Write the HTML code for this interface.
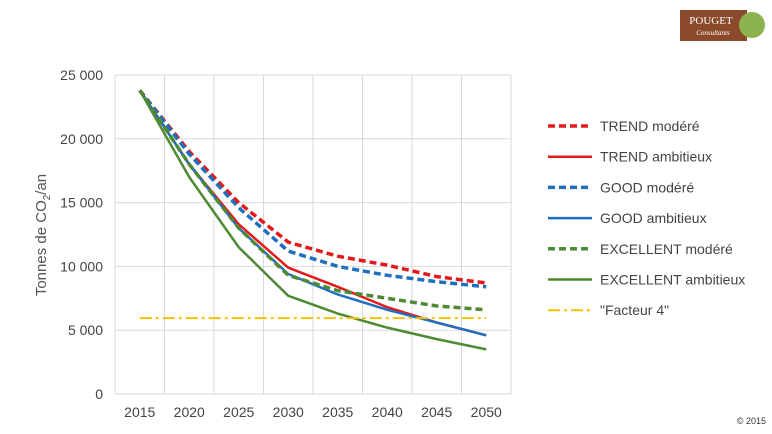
<!DOCTYPE html>
<html><head><meta charset="utf-8"><style>
body{margin:0;background:#fff;width:772px;height:429px;overflow:hidden;font-family:"Liberation Sans",sans-serif}
</style></head><body>
<svg id="c" width="772" height="429" xmlns="http://www.w3.org/2000/svg">
<g>
<rect x="680" y="10" width="67" height="31" fill="#8b4a2b"/>
<circle cx="752" cy="25" r="13" fill="#8db350"/>
<text x="711" y="24" font-family="Liberation Serif" font-size="11" fill="#fff" text-anchor="middle">POUGET</text>
<text x="713" y="35" font-family="Liberation Serif" font-style="italic" font-size="7" fill="#fff" text-anchor="middle">Consultants</text>
</g>
<text x="766" y="424" font-size="9" fill="#333" text-anchor="end">© 2015</text>
<g id="grid"></g><g id="lines"></g><g id="legend"></g>
<text transform="translate(46,235) rotate(-90)" font-size="15" fill="#555" text-anchor="middle">Tonnes de CO<tspan font-size="10" dy="4">2</tspan><tspan dy="-4">/an</tspan></text>
</svg>
<script>
const categories=["2015","2020","2025","2030","2035","2040","2045","2050"];
const yTicks=[0,5000,10000,15000,20000,25000];
const yTickLabels=["0","5 000","10 000","15 000","20 000","25 000"];
const seriesNames=["TREND modéré","TREND ambitieux","GOOD modéré","GOOD ambitieux","EXCELLENT modéré","EXCELLENT ambitieux","\"Facteur 4\""];
const trendModere=[23800,19000,15000,11900,10800,10100,9200,8700];
const trendAmbitieux=[23800,18000,13300,9900,8400,6800,5600,4600];
const goodModere=[23800,18800,14600,11200,10000,9300,8800,8400];
const goodAmbitieux=[23800,18000,13000,9400,7800,6600,5600,4600];
const excellentModere=[23800,18000,13000,9300,8100,7500,6900,6600];
const excellentAmbitieux=[23800,17000,11500,7700,6300,5200,4300,3500];
const facteur4=[5950,5950,5950,5950,5950,5950,5950,5950];
const series=[trendModere,trendAmbitieux,goodModere,goodAmbitieux,excellentModere,excellentAmbitieux,facteur4];
const colors=["#e31a1c","#e31a1c","#1f6fbf","#1f6fbf","#4e8a34","#4e8a34","#f5c000"];
const dashes=["7,4","","7,4","","7,4","","12,4,3,4"];
const widths=[3.5,2.5,3.5,2.5,3.5,2.5,2];
const L=115,R=511,T=75,B=394,ymax=25000;
const bw=(R-L)/categories.length;
const x=i=>L+bw*(i+0.5), y=v=>B-(v/ymax)*(B-T);
const NS="http://www.w3.org/2000/svg";
function el(t,a,p){const e=document.createElementNS(NS,t);for(const k in a)e.setAttribute(k,a[k]);p.appendChild(e);return e;}
const g=document.getElementById('grid');
yTicks.forEach((v,i)=>{
 const ln=el('line',{x1:L,x2:R,y1:y(v),y2:y(v),stroke:'#d9d9d9','stroke-width':1},g);
 
 
 const t=el('text',{x:L-12,y:y(v)+5,'font-size':14,fill:'#444','text-anchor':'end'},g);
 t.textContent=yTickLabels[i];
 
 
});
for(let i=0;i<=categories.length;i++){
 const ln=el('line',{x1:L+bw*i,x2:L+bw*i,y1:T,y2:B,stroke:'#d9d9d9','stroke-width':1},g);
 
 
}
categories.forEach((c,i)=>{
 const t=el('text',{x:x(i),y:417,'font-size':14,fill:'#444','text-anchor':'middle'},g);
 t.textContent=c;
 
 
});
const lg=document.getElementById('lines'),leg=document.getElementById('legend');
series.forEach((s,k)=>{
 const p=el('polyline',{points:s.map((v,i)=>x(i)+','+y(v)).join(' '),fill:'none',stroke:colors[k],'stroke-width':widths[k],'stroke-dasharray':dashes[k]},lg);
 
 
 const ly=126+k*30.7;
 const l=el('line',{x1:548,x2:592,y1:ly,y2:ly,stroke:colors[k],'stroke-width':widths[k],'stroke-dasharray':dashes[k]},leg);
 
 
 const t=el('text',{x:600,y:ly+5,'font-size':14,fill:'#444'},leg);
 t.textContent=seriesNames[k];
 
 
});
</script>
</body></html>
